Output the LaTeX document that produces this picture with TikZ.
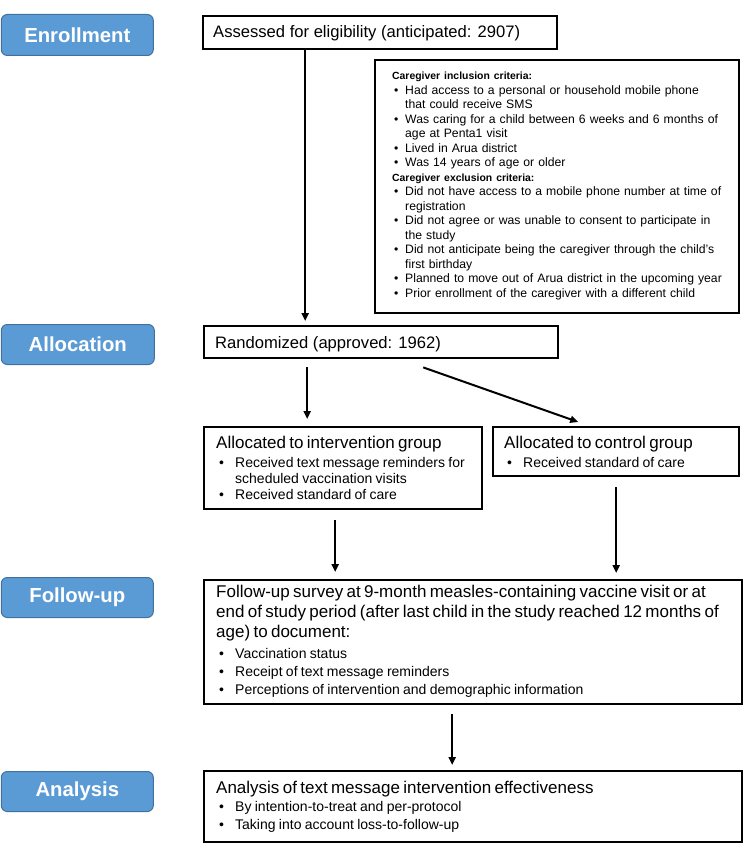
\documentclass[tikz,border=0pt]{standalone}
\usepackage{fontspec}
\setmainfont{Liberation Sans}
\usetikzlibrary{arrows.meta}
\definecolor{phasefill}{HTML}{5B9BD5}
\definecolor{phaseline}{HTML}{41719C}
\setlength\parindent{0pt}
\newcommand\bli[3]{\par\noindent\hangindent=#1\relax\hangafter=1\relax\makebox[#1][l]{\hspace{#2}•}#3}
\begin{document}
\begin{tikzpicture}[x=1pt,y=-1pt,
  box/.style={draw=black, line width=2.4pt, anchor=north west, inner sep=0pt},
  phase/.style={draw=phaseline, fill=phasefill, line width=1pt, rounded corners=6pt, anchor=north west, inner sep=0pt, text=white, font=\fontsize{20.3}{24}\selectfont\bfseries},
  big/.style={font=\fontsize{16.6}{20}\selectfont},
  txt/.style={anchor=base west, inner sep=0pt, align=left},
  crith/.style={font=\fontsize{10.4}{14.5}\selectfont\bfseries},
  arr/.style={line width=2pt, -{Triangle[length=8pt,width=7pt]}}]
\useasboundingbox (0,0) rectangle (750,850);

% phase labels
\node[phase, minimum width=152pt, minimum height=41pt] (pEnr) at (0.8,14) {Enrollment};
\node[phase, minimum width=153pt, minimum height=40pt] (pAll) at (0.8,324) {Allocation};
\node[phase, minimum width=152pt, minimum height=40pt] (pFol) at (0.8,577) {Follow-up};
\node[phase, minimum width=152pt, minimum height=40pt] (pAna) at (0.8,771) {Analysis};

% assessed
\node[box, minimum width=354pt, minimum height=33pt] (ass) at (202,15) {};
\node[txt, big] (assT) at (213,38) {Assessed for eligibility (anticipated: 2907)};

% criteria
\node[box, minimum width=364pt, minimum height=253pt] (crit) at (374,59) {};
\node[txt, text width=345pt, font=\fontsize{12.2}{14.5}\selectfont] (critT) at (392,80) {%
{\fontsize{10.4}{14.5}\selectfont\bfseries Caregiver inclusion criteria:}
\bli{13pt}{2pt}{Had access to a personal or household mobile phone\newline that could receive SMS}
\bli{13pt}{2pt}{Was caring for a child between 6 weeks and 6 months of\newline age at Penta1 visit}
\bli{13pt}{2pt}{Lived in Arua district}
\bli{13pt}{2pt}{Was 14 years of age or older}
\par{\fontsize{10.4}{14.5}\selectfont\bfseries Caregiver exclusion criteria:}
\bli{13pt}{2pt}{Did not have access to a mobile phone number at time of\newline registration}
\bli{13pt}{2pt}{Did not agree or was unable to consent to participate in\newline the study}
\bli{13pt}{2pt}{Did not anticipate being the caregiver through the child’s\newline first birthday}
\bli{13pt}{2pt}{Planned to move out of Arua district in the upcoming year}
\bli{13pt}{2pt}{Prior enrollment of the caregiver with a different child}\par};

% randomized
\node[box, minimum width=354pt, minimum height=32pt] (rand) at (203,325) {};
\node[txt, big] (randT) at (215,348) {Randomized (approved: 1962)};

% intervention
\node[box, minimum width=278pt, minimum height=82pt] (int) at (203,426) {};
\node[txt, text width=262pt] (intT) at (216,448) {%
{\fontsize{17}{20}\selectfont Allocated to intervention group\par}
{\fontsize{14}{16}\selectfont\vspace{3pt}
\bli{19pt}{3pt}{Received text message reminders for\newline scheduled vaccination visits}
\bli{19pt}{3pt}{Received standard of care}\par}};

% control
\node[box, minimum width=246pt, minimum height=49pt] (ctl) at (492,426) {};
\node[txt, text width=230pt] (ctlT) at (504,448) {%
{\fontsize{17}{20}\selectfont Allocated to control group\par}
{\fontsize{14}{16}\selectfont\vspace{3pt}
\bli{19pt}{3pt}{Received standard of care}\par}};

% follow-up
\node[box, minimum width=538pt, minimum height=124pt] (fu) at (203,579) {};
\node[txt, text width=522pt] (fuT) at (216,597) {%
{\fontsize{17}{20}\selectfont Follow-up survey at 9-month measles-containing vaccine visit or at\newline end of study period (after last child in the study reached 12 months of\newline age) to document:\par}
{\fontsize{14}{18}\selectfont\vspace{3pt}
\bli{19pt}{3pt}{Vaccination status}
\bli{19pt}{3pt}{Receipt of text message reminders}
\bli{19pt}{3pt}{Perceptions of intervention and demographic information}\par}};

% analysis
\node[box, minimum width=538pt, minimum height=71pt] (an) at (203,770) {};
\node[txt, text width=522pt] (anT) at (216,793) {%
{\fontsize{17}{20}\selectfont Analysis of text message intervention effectiveness\par}
{\fontsize{14}{18}\selectfont
\bli{19pt}{3pt}{By intention-to-treat and per-protocol}
\bli{19pt}{3pt}{Taking into account loss-to-follow-up}\par}};

% connectors
\draw[arr] ([xshift=-75pt]ass.south) -- ([xshift=-76pt,yshift=4pt]rand.north);
\draw[arr] ([xshift=-74pt,yshift=-8pt]rand.south) -- ([xshift=-36pt,yshift=7pt]int.north);
\draw[arr] ([xshift=42pt,yshift=-8pt]rand.south) -- ([xshift=-38pt,yshift=4pt]ctl.north);
\draw[arr] ([xshift=-8pt,yshift=-10pt]int.south) -- ([xshift=-138pt,yshift=7pt]fu.north);
\draw[arr] ([yshift=-10pt]ctl.south) -- ([xshift=143pt,yshift=6pt]fu.north);
\draw[arr] ([xshift=-21pt,yshift=-9pt]fu.south) -- ([xshift=-21pt,yshift=5pt]an.north);
\end{tikzpicture}
\end{document}
